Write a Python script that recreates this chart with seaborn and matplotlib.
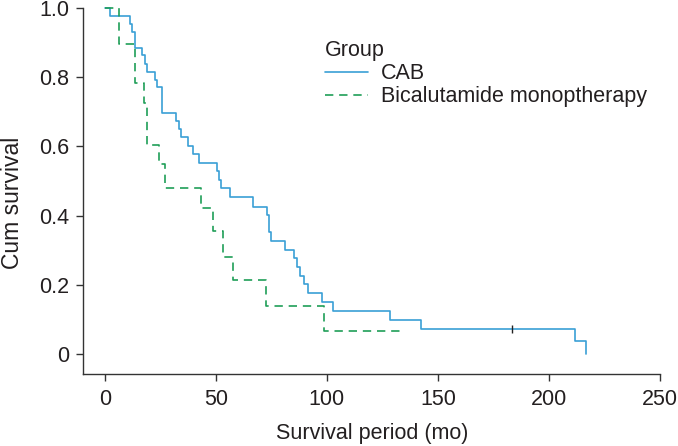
import numpy as np
import pandas as pd
from matplotlib import pyplot as plt
import seaborn as sns

sns.set_theme(style='ticks')
plt.rcParams['font.family'] = ['Liberation Sans', 'DejaVu Sans']

# Kaplan-Meier step values
cab_time = [0, 2.1, 11.2, 12.0, 13.6, 16.6, 18.1, 19.1, 22.3, 23.4, 25.8, 32.1, 33.5,
            34.2, 37.5, 39.6, 42.5, 50.6, 51.5, 52.3, 56.1, 66.9, 73.1, 74.1, 74.9,
            81.1, 85.1, 86.3, 87.7, 89.7, 91.5, 97.6, 102.9, 128.4, 142.3, 211.7, 217.0]
cab_surv = [1.0, 0.976, 0.954, 0.930, 0.885, 0.864, 0.838, 0.816, 0.792, 0.771, 0.697,
            0.674, 0.649, 0.628, 0.602, 0.578, 0.551, 0.530, 0.503, 0.479, 0.453, 0.426,
            0.402, 0.352, 0.327, 0.301, 0.277, 0.252, 0.225, 0.201, 0.177, 0.150, 0.125,
            0.098, 0.073, 0.036, 0.0]
bic_time = [0, 6.3, 13.6, 17.6, 19.1, 24.1, 27.1, 43.4, 48.5, 53.2, 57.6, 72.6, 98.7, 133.7]
bic_surv = [1.0, 0.895, 0.782, 0.725, 0.604, 0.548, 0.481, 0.421, 0.354, 0.281, 0.214,
            0.139, 0.067, 0.067]
cab_censor_time = [183.5]
cab_censor_surv = [0.073]

groups = ['CAB', 'Bicalutamide monoptherapy']
colors = {'CAB': '#3a9fd6', 'Bicalutamide monoptherapy': '#1f9e58'}
text_color = '#231f20'

df = pd.concat([
    pd.DataFrame({'time': cab_time, 'surv': cab_surv, 'Group': groups[0]}),
    pd.DataFrame({'time': bic_time, 'surv': bic_surv, 'Group': groups[1]}),
])

fig = plt.figure(figsize=(6.78, 4.46), dpi=100)
ax = fig.add_axes([0.1224, 0.1614, 0.8506, 0.8206])

sns.lineplot(
    data=df, x='time', y='surv', hue='Group', style='Group',
    hue_order=groups, style_order=groups, palette=colors,
    dashes={'CAB': '', 'Bicalutamide monoptherapy': (5, 3.5)},
    drawstyle='steps-post', estimator=None, sort=False,
    linewidth=1.2, clip_on=False, ax=ax,
)
# censored observation
ax.scatter(cab_censor_time, cab_censor_surv, marker='|', s=40, color='#222222',
           linewidths=1.0, zorder=3)

ax.set_xlim(-9.95, 250)
ax.set_ylim(-0.058, 1.0)
ax.set_xticks([0, 50, 100, 150, 200, 250])
ax.set_yticks([0, 0.2, 0.4, 0.6, 0.8, 1.0])
ax.set_yticklabels(['0', '0.2', '0.4', '0.6', '0.8', '1.0'])
ax.tick_params(labelsize=15.5, length=5, width=1, color='#333333', labelcolor=text_color)
ax.tick_params(axis='x', pad=6)
ax.tick_params(axis='y', pad=5)
ax.set_xlabel('Survival period (mo)', fontsize=15.5, color=text_color)
ax.set_ylabel('Cum survival', fontsize=16.5, color=text_color)
ax.xaxis.set_label_coords(0.501, -0.133)
ax.yaxis.set_label_coords(-0.103, 0.467)
for s in ['left', 'bottom']:
    ax.spines[s].set_color('#333333')
    ax.spines[s].set_linewidth(1.0)
sns.despine(ax=ax)

sns.move_legend(
    ax, 'upper left', bbox_to_anchor=(0.4727, 0.920), bbox_transform=fig.transFigure,
    frameon=False, fontsize=15.5, title='Group', title_fontsize=15.5,
    handlelength=2.0, handletextpad=0.6, alignment='left', labelspacing=0.1,
    borderaxespad=0, borderpad=0.2,
)
for t in ax.get_legend().get_texts():
    t.set_color(text_color)
ax.get_legend().get_title().set_color(text_color)

fig.savefig('out.png', dpi=100)
